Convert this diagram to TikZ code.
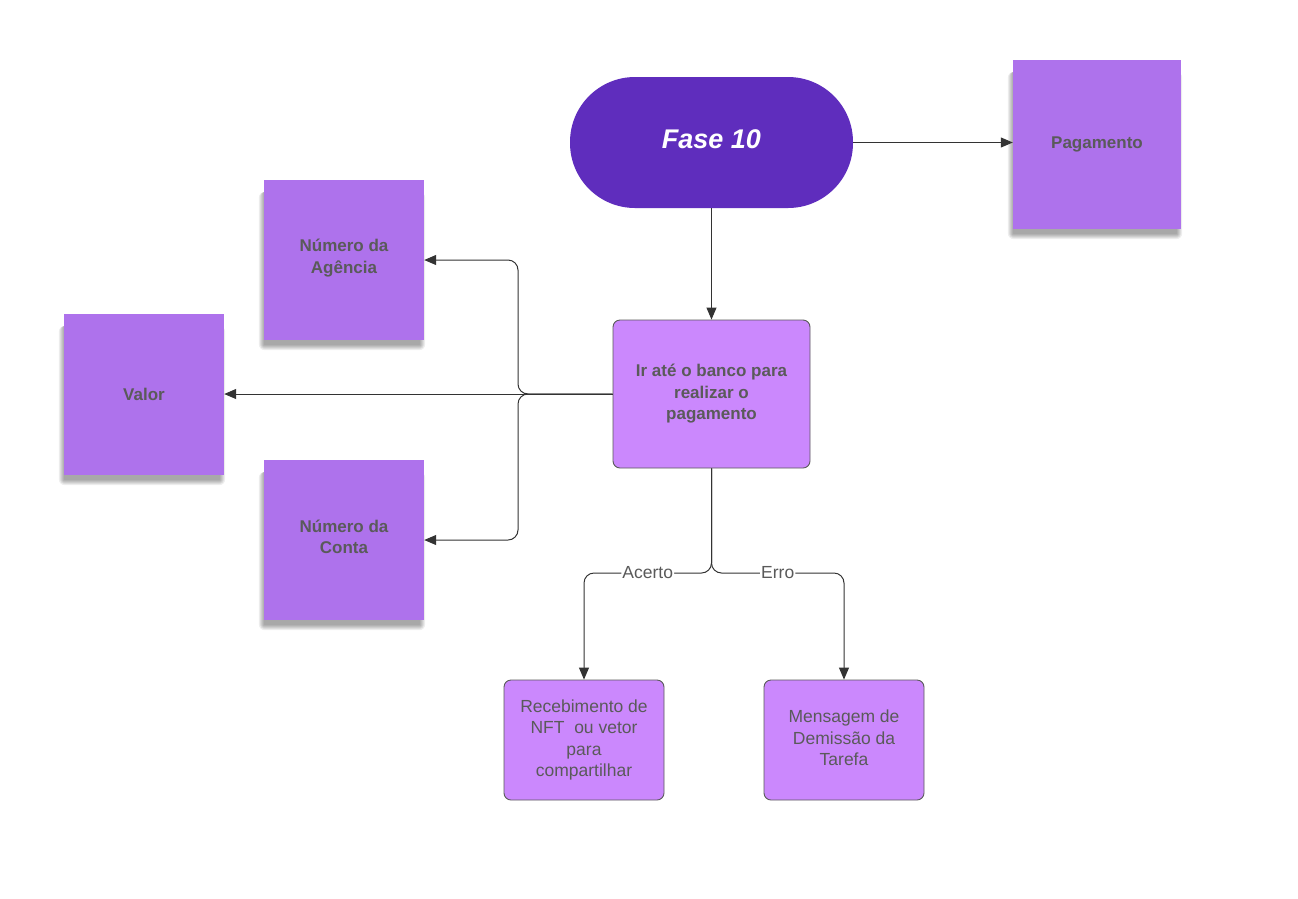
\documentclass[tikz,border=0pt]{standalone}
\usepackage{fontspec}
\setmainfont{Liberation Sans}
\usetikzlibrary{arrows.meta,calc}
\pgfdeclarelayer{background}
\pgfsetlayers{background,main}
\definecolor{phasefill}{HTML}{5F2DBD}
\definecolor{stickyfill}{HTML}{AE72EC}
\definecolor{stepfill}{HTML}{CB88FD}
\definecolor{stepdraw}{HTML}{5A5A5A}
\definecolor{txtgray}{HTML}{5A5A5A}
\definecolor{linecol}{HTML}{333333}
% lift text without changing the size of its box, so it sits above centre
\newcommand{\lift}[2]{\raisebox{#1}[\height][\depth]{#2}}
\newcommand{\liftlines}[2]{\lift{#1}{\parbox[c]{150pt}{\centering #2}}}
% soft drop shadow under a sticky note, built from stacked translucent layers
\newcommand{\noteshadow}[1]{%
  \foreach \k in {1,...,6}{%
    \fill[black, opacity=0.065, rounded corners=\k pt]
      ($(#1.north west)+(1-\k,12)$) rectangle ($(#1.south east)+(-5+\k,4+\k)$);
  }}
\begin{document}
\begin{tikzpicture}[x=1pt,y=-1pt,
  phase/.style={rectangle, fill=phasefill, rounded corners=65pt,
    minimum width=283pt, minimum height=131pt, inner sep=0pt,
    text=white, font=\fontsize{27}{31}\selectfont\bfseries\itshape},
  sticky/.style={rectangle, fill=stickyfill, inner sep=0pt, align=center,
    minimum width=160pt, minimum height=160pt, text=txtgray,
    font=\fontsize{17}{21.5}\selectfont\bfseries},
  stepbox/.style={rectangle, fill=stepfill, draw=stepdraw, line width=0.9pt,
    rounded corners=7pt, inner sep=0pt, align=center, text=txtgray},
  conn/.style={draw=linecol, line width=1pt,
    -{Triangle[length=12pt,width=10pt]}},
  lbl/.style={fill=white, inner sep=1pt, text=txtgray,
    font=\fontsize{17.5}{21}\selectfont},
]
\begin{pgfonlayer}{background}
\fill[white] (0,0) rectangle (1298,898);
\end{pgfonlayer}
\useasboundingbox (0,0) rectangle (1298,898);

% top of the flow
\node[phase] (fase) at (711.5,142.5) {\lift{3pt}{Fase 10}};
\node[sticky, minimum width=168pt, minimum height=169pt] (pag) at (1097,144.5) {Pagamento};

% data needed at the bank
\node[sticky] (agen) at (344,260) {\liftlines{2pt}{Número da\\Agência}};
\node[sticky, minimum height=161pt] (valor) at (144,394.5) {Valor};
\node[sticky] (conta) at (344,540) {\liftlines{3pt}{Número da\\Conta}};

% main step and its outcomes
\node[stepbox, minimum width=197pt, minimum height=148pt,
  font=\fontsize{17}{21.5}\selectfont\bfseries] (ir) at (711.5,394)
  {Ir até o banco para\\realizar o\\pagamento};
\node[stepbox, minimum width=160pt, minimum height=120pt,
  font=\fontsize{17.5}{21.6}\selectfont] (receb) at (584,740)
  {Recebimento de\\NFT\ \ ou vetor\\para\\compartilhar};
\node[stepbox, minimum width=160pt, minimum height=120pt,
  font=\fontsize{17.5}{21.6}\selectfont] (mens) at (844,740)
  {\liftlines{2pt}{Mensagem de\\Demissão da\\Tarefa}};

% shadows of the sticky notes
\begin{pgfonlayer}{background}
\noteshadow{pag}
\noteshadow{agen}
\noteshadow{valor}
\noteshadow{conta}
\end{pgfonlayer}

% branch points
\coordinate (jl) at (518,394);
\coordinate (jb) at (711.5,573);

% connectors
\draw[conn] (fase.east) -- (fase.east -| pag.west);
\draw[conn] (fase.south) -- (ir.north);
\draw[conn] (ir.west) -- (ir.west -| valor.east);
\draw[conn, rounded corners=10pt] (ir.west) -- (jl) |- (agen.east);
\draw[conn, rounded corners=10pt] (ir.west) -- (jl) |- (conta.east);
\draw[conn, rounded corners=10pt] (ir.south) -- (jb) -| node[lbl, pos=0.25] {Acerto} (receb.north);
\draw[conn, rounded corners=10pt] (ir.south) -- (jb) -| node[lbl, pos=0.25] {Erro} (mens.north);
\end{tikzpicture}
\end{document}
